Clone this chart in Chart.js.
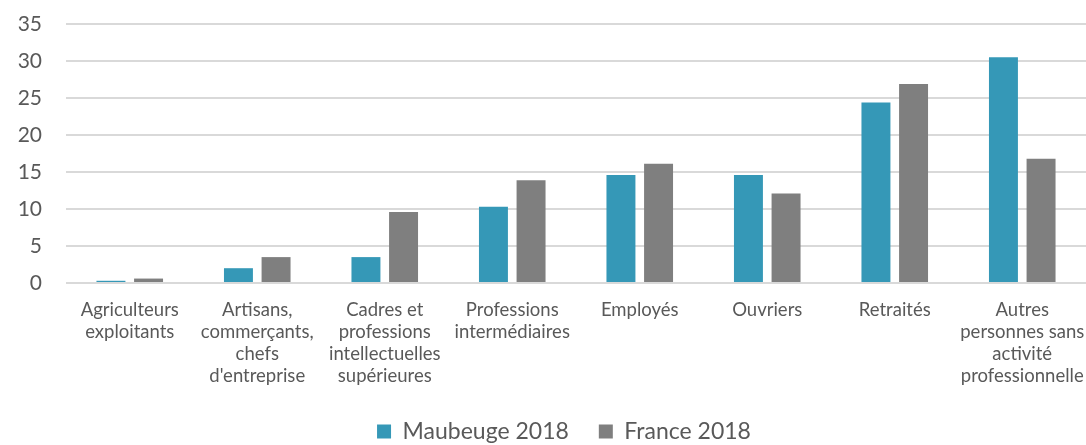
<!DOCTYPE html>
<html>
<head>
<meta charset="utf-8">
<script src="https://cdn.jsdelivr.net/npm/chart.js@4"></script>
<style>
  html, body { margin: 0; padding: 0; background: #fff; }
  #wrap { width: 1086px; height: 445px; }
</style>
</head>
<body>
<div id="wrap"><canvas id="chart"></canvas></div>
<script>
const categories = [
    ['Agriculteurs', 'exploitants'],
    ['Artisans,', 'commerçants,', 'chefs', "d'entreprise"],
    ['Cadres et', 'professions', 'intellectuelles', 'supérieures'],
    ['Professions', 'intermédiaires'],
    'Employés',
    'Ouvriers',
    'Retraités',
    ['Autres', 'personnes sans', 'activité', 'professionnelle']
];
const maubeuge2018 = [0.3, 2.0, 3.5, 10.3, 14.6, 14.6, 24.4, 30.5];
const france2018 = [0.6, 3.5, 9.6, 13.9, 16.1, 12.1, 26.9, 16.8];
const yTicks = [0, 5, 10, 15, 20, 25, 30, 35];

const textColor = '#595959';

// legend: fixed height, and nudged right a bit like the original
const legendTweak = {
    id: 'legendTweak',
    afterInit(chart) {
        const lg = chart.legend;
        if (!lg) return;
        const fit = lg.fit.bind(lg);
        lg.fit = function () {
            fit();
            this.height = 55;
        };
    },
    afterLayout(chart) {
        const lg = chart.legend;
        if (!lg) return;
        lg.left += 21;
        lg.right += 21;
    }
};

new Chart(document.getElementById('chart'), {
    type: 'bar',
    data: {
        labels: categories,
        datasets: [
            {
                label: 'Maubeuge 2018',
                data: maubeuge2018,
                backgroundColor: '#3598B7',
                categoryPercentage: 0.59,
                barPercentage: 0.77
            },
            {
                label: 'France 2018',
                data: france2018,
                backgroundColor: '#7F7F7F',
                categoryPercentage: 0.59,
                barPercentage: 0.77
            }
        ]
    },
    options: {
        responsive: true,
        maintainAspectRatio: false,
        animation: false,
        layout: { padding: { top: 24, right: 0, bottom: 0, left: 0 } },
        plugins: {
            tooltip: { enabled: false },
            legend: {
                position: 'bottom',
                labels: {
                    color: textColor,
                    font: { family: 'Lato', size: 23 },
                    boxWidth: 14,
                    boxHeight: 14,
                    padding: 30
                }
            }
        },
        scales: {
            x: {
                grid: { display: false },
                border: { display: false },
                ticks: {
                    color: textColor,
                    font: { family: 'Lato', size: 18.5, lineHeight: 1.19 },
                    maxRotation: 0,
                    autoSkip: false,
                    padding: 8
                },
                afterFit: (axis) => {
                    axis.height = 107;
                    axis.paddingLeft = 0;
                    axis.paddingRight = 0;
                }
            },
            y: {
                min: 0,
                max: 35,
                afterBuildTicks: (axis) => { axis.ticks = yTicks.map(v => ({ value: v })); },
                grid: { color: '#D9D9D9', lineWidth: 2, drawTicks: false },
                border: { display: false },
                ticks: {
                    color: textColor,
                    font: { family: 'Lato', size: 21 },
                    padding: 24
                },
                afterFit: (axis) => {
                    axis.width = 66;
                    axis.paddingTop = 0;
                    axis.paddingBottom = 0;
                }
            }
        }
    },
    plugins: [legendTweak]
});
</script>
</body>
</html>
